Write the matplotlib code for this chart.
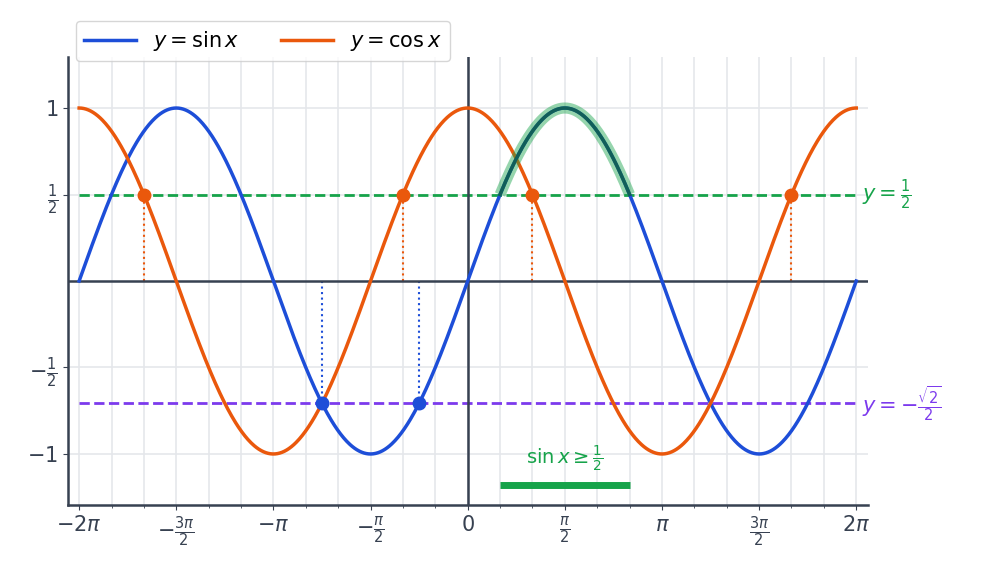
import numpy as np
import matplotlib.pyplot as plt

xticks = [-2*np.pi, -1.5*np.pi, -np.pi, -0.5*np.pi, 0, 0.5*np.pi, np.pi, 1.5*np.pi, 2*np.pi]
xticklabels = [r'$-2\pi$', r'$-\frac{3\pi}{2}$', r'$-\pi$', r'$-\frac{\pi}{2}$', r'$0$',
               r'$\frac{\pi}{2}$', r'$\pi$', r'$\frac{3\pi}{2}$', r'$2\pi$']
yticks = [-1, -0.5, 0.5, 1]
yticklabels = [r'$-1$', r'$-\frac{1}{2}$', r'$\frac{1}{2}$', r'$1$']
cos_pts = [-5*np.pi/3, -np.pi/3, np.pi/3, 5*np.pi/3]
sin_pts = [-3*np.pi/4, -np.pi/4]
hl = [np.pi/6, 5*np.pi/6]
level_cos = 0.5
level_sin = -np.sqrt(2)/2

blue = '#1d4ed8'; orange = '#ea580c'; green = '#16a34a'; purple = '#7c3aed'; dark = '#374151'

fig = plt.figure(figsize=(9.93, 5.70), dpi=100)
ax = fig.add_axes([68/993, 1-505/570, 800/993, 448/570])
x = np.linspace(-2*np.pi, 2*np.pi, 1000)
ax.plot(x, np.sin(x), color=blue, lw=2.5, label=r'$y = \sin x$', zorder=3)
ax.plot(x, np.cos(x), color=orange, lw=2.5, label=r'$y = \cos x$', zorder=3)
xh = np.linspace(hl[0], hl[1], 200)
ax.plot(xh, np.sin(xh), color=green, lw=8, alpha=0.45, zorder=4, solid_capstyle='butt')
ax.plot(xh, np.sin(xh), color='#115e59', lw=2.5, zorder=5)
ax.plot([-2*np.pi, 2*np.pi], [level_cos]*2, ls='--', color=green, lw=2, zorder=2)
ax.plot([-2*np.pi, 2*np.pi], [level_sin]*2, ls='--', color=purple, lw=2, zorder=2)
ax.text(2*np.pi+0.1, level_cos, r'$y = \frac{1}{2}$', color=green, fontsize=15, va='center')
ax.text(2*np.pi+0.1, level_sin, r'$y = -\frac{\sqrt{2}}{2}$', color=purple, fontsize=15, va='center')
for p in cos_pts:
    ax.plot([p, p], [0, level_cos], ls=':', color=orange, lw=1.5, zorder=2)
    ax.plot(p, level_cos, 'o', color=orange, ms=9, zorder=6)
for p in sin_pts:
    ax.plot([p, p], [0, level_sin], ls=':', color=blue, lw=1.5, zorder=2)
    ax.plot(p, level_sin, 'o', color=blue, ms=9, zorder=6)
ax.plot(hl, [-1.18, -1.18], color=green, lw=5, solid_capstyle='butt')
ax.text(np.pi/2, -1.03, r'$\sin x \geq \frac{1}{2}$', color=green, fontsize=14, ha='center', va='center')
ax.axhline(0, color=dark, lw=1.8, zorder=2)
ax.axvline(0, color=dark, lw=1.8, zorder=2)
ax.set_xlim(-2*np.pi-0.18, 2*np.pi+0.19)
ax.set_ylim(-1.295, 1.295)
ax.set_xticks(xticks); ax.set_xticklabels(xticklabels, fontsize=15, color=dark)
ax.set_xticks(np.arange(-12, 13)*np.pi/6, minor=True)
ax.set_yticks(yticks); ax.set_yticklabels(yticklabels, fontsize=15, color=dark)
ax.grid(True, which='both', axis='x', color='#e5e7eb', lw=1.2, zorder=0)
ax.grid(True, which='major', axis='y', color='#e5e7eb', lw=1.2, zorder=0)
ax.tick_params(which='both', color=dark)
for s in ['top', 'right']:
    ax.spines[s].set_visible(False)
for s in ['left', 'bottom']:
    ax.spines[s].set_color(dark); ax.spines[s].set_linewidth(1.8)
ax.legend(loc='lower left', bbox_to_anchor=(0.01, 0.99), ncol=2, fontsize=15, frameon=True,
          borderaxespad=0, handlelength=2.5)
fig.savefig('out.png', dpi=100)
